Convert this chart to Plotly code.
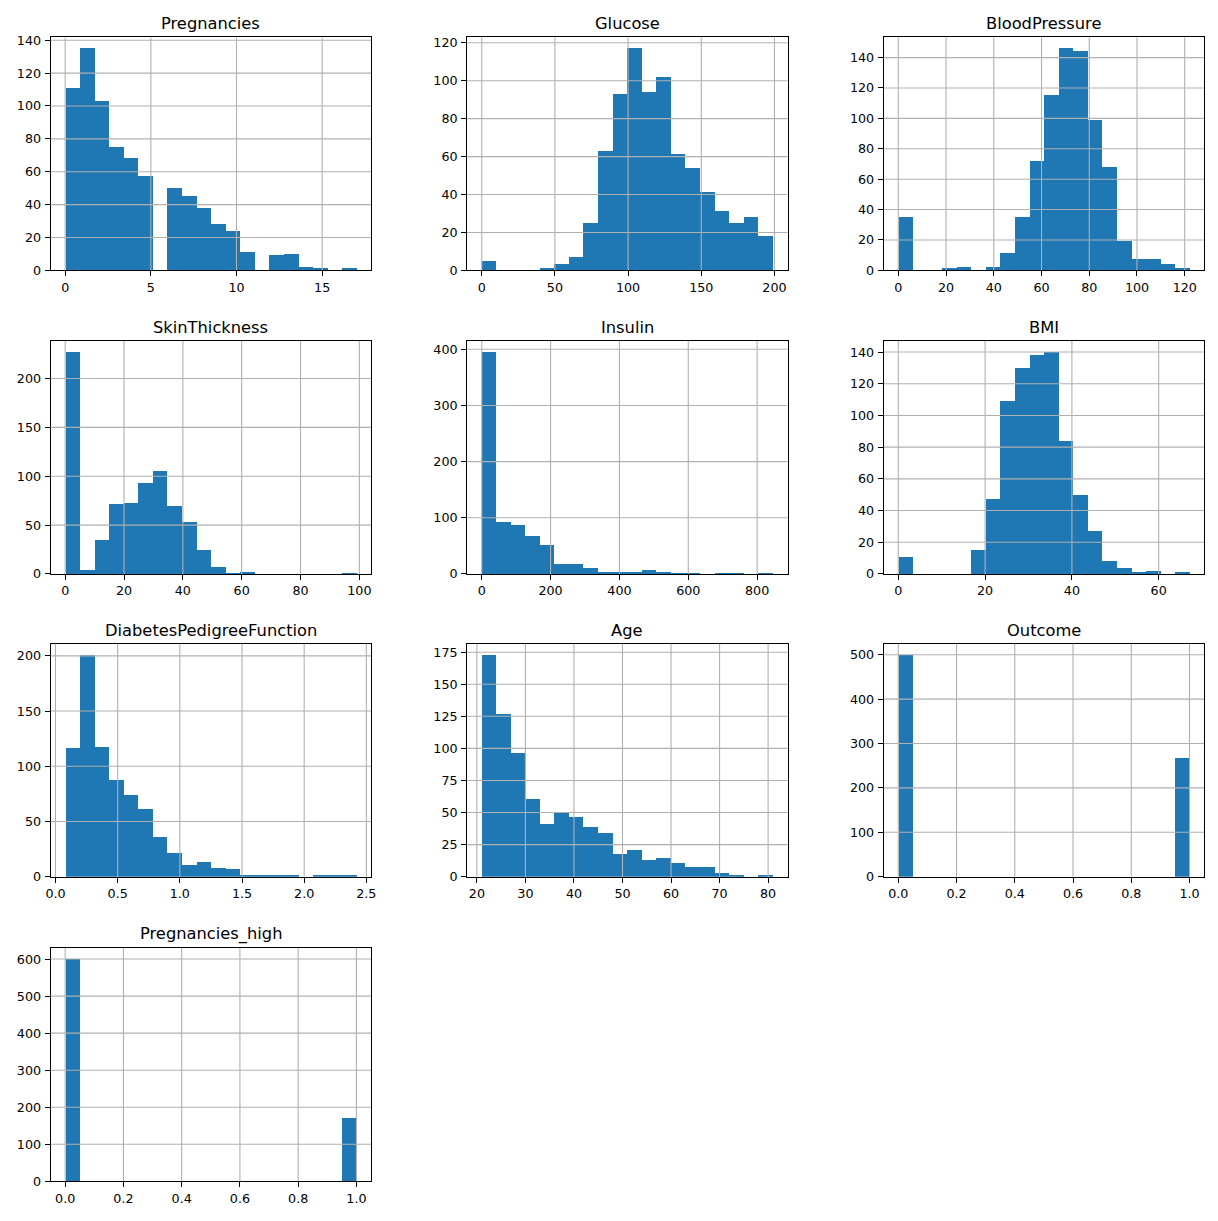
import numpy as np
import plotly.graph_objects as go

# ---------------- data (histogram counts, 20 bins each) ----------------
names = ["Pregnancies", "Glucose", "BloodPressure", "SkinThickness", "Insulin",
         "BMI", "DiabetesPedigreeFunction", "Age", "Outcome", "Pregnancies_high"]

data_min = [0, 0, 0, 0, 0, 0, 0.078, 21, 0, 0]
data_max = [17, 199, 122, 99, 846, 67.1, 2.42, 81, 1, 1]

pregnancies_counts = [111, 135, 103, 75, 68, 57, 0, 50, 45, 38, 28, 24, 11, 0, 9, 10, 2, 1, 0, 1]
glucose_counts = [5, 0, 0, 0, 1, 3, 7, 25, 63, 93, 117, 94, 102, 61, 54, 41, 31, 25, 28, 18]
bloodpressure_counts = [35, 0, 0, 1, 2, 0, 2, 11, 35, 72, 115, 146, 144, 99, 68, 19, 7, 7, 4, 1]
skinthickness_counts = [227, 4, 35, 72, 73, 93, 105, 70, 53, 25, 7, 1, 2, 0, 0, 0, 0, 0, 0, 1]
insulin_counts = [395, 93, 88, 67, 51, 18, 18, 11, 4, 4, 2, 7, 4, 1, 1, 0, 1, 1, 0, 1]
bmi_counts = [11, 0, 0, 0, 0, 15, 47, 109, 130, 138, 140, 84, 50, 27, 8, 4, 1, 2, 0, 1]
dpf_counts = [117, 201, 118, 88, 74, 62, 36, 22, 11, 14, 8, 7, 1, 2, 2, 1, 0, 1, 1, 2]
age_counts = [173, 127, 97, 61, 41, 51, 47, 39, 34, 18, 21, 13, 15, 11, 8, 8, 3, 1, 0, 1]
outcome_counts = [500, 0, 0, 0, 0, 0, 0, 0, 0, 0, 0, 0, 0, 0, 0, 0, 0, 0, 0, 268]
preg_high_counts = [599, 0, 0, 0, 0, 0, 0, 0, 0, 0, 0, 0, 0, 0, 0, 0, 0, 0, 0, 169]

all_counts = [pregnancies_counts, glucose_counts, bloodpressure_counts, skinthickness_counts,
              insulin_counts, bmi_counts, dpf_counts, age_counts, outcome_counts, preg_high_counts]

x_ticks = [
    [0, 5, 10, 15],
    [0, 50, 100, 150, 200],
    [0, 20, 40, 60, 80, 100, 120],
    [0, 20, 40, 60, 80, 100],
    [0, 200, 400, 600, 800],
    [0, 20, 40, 60],
    [0.0, 0.5, 1.0, 1.5, 2.0, 2.5],
    [20, 30, 40, 50, 60, 70, 80],
    [0.0, 0.2, 0.4, 0.6, 0.8, 1.0],
    [0.0, 0.2, 0.4, 0.6, 0.8, 1.0],
]
x_tick_fmt = [None, None, None, None, None, None, ".1f", None, ".1f", ".1f"]
y_ticks = [
    list(range(0, 141, 20)),
    list(range(0, 121, 20)),
    list(range(0, 141, 20)),
    list(range(0, 201, 50)),
    list(range(0, 401, 100)),
    list(range(0, 141, 20)),
    list(range(0, 201, 50)),
    list(range(0, 176, 25)),
    list(range(0, 501, 100)),
    list(range(0, 601, 100)),
]

# ---------------- layout geometry ----------------
W, H = 1218, 1221
col_left = [46, 466, 886]
ax_w = 323
row_top = [32.7, 339.3, 645, 952.7]
ax_h = 235.3

BAR = "#1f77b4"
GRID = "#b0b0b0"
FONT = "DejaVu Sans, sans-serif"
TICK_SIZE = 12.7
TITLE_SIZE = 16.3
LW = 1.1

fig = go.Figure()
layout = dict(
    width=W, height=H, margin=dict(l=0, r=0, t=0, b=0),
    paper_bgcolor="white", plot_bgcolor="white", showlegend=False,
    font=dict(family=FONT, size=TICK_SIZE, color="black"),
    bargap=0,
)
shapes = []
annotations = []

for i, name in enumerate(names):
    r, c = divmod(i, 3)
    k = i + 1
    xa = "xaxis" if k == 1 else f"xaxis{k}"
    ya = "yaxis" if k == 1 else f"yaxis{k}"
    xr = "x" if k == 1 else f"x{k}"
    yr = "y" if k == 1 else f"y{k}"

    counts = np.array(all_counts[i], dtype=float)
    edges = np.linspace(data_min[i], data_max[i], len(counts) + 1)
    centers = (edges[:-1] + edges[1:]) / 2
    widths = np.diff(edges)

    fig.add_trace(go.Bar(x=centers, y=counts, width=widths, marker=dict(color=BAR, line=dict(width=0)),
                         xaxis=xr, yaxis=yr, hoverinfo="x+y"))

    span = data_max[i] - data_min[i]
    xrange_ = [data_min[i] - 0.05 * span, data_max[i] + 0.05 * span]
    yrange_ = [0, counts.max() * 1.05]

    x0 = col_left[c] / W
    x1 = (col_left[c] + ax_w) / W
    y1 = 1 - row_top[r] / H
    y0 = 1 - (row_top[r] + ax_h) / H

    common = dict(showgrid=False, zeroline=False, showline=True, linecolor="black", linewidth=LW,
                  mirror=True, ticks="outside", ticklen=5, tickwidth=LW, tickcolor="black",
                  tickfont=dict(family=FONT, size=TICK_SIZE, color="black"))
    layout[xa] = dict(domain=[x0, x1], range=xrange_, anchor=yr, tickmode="array",
                      tickvals=x_ticks[i], ticklabelstandoff=0, **common)
    if x_tick_fmt[i]:
        layout[xa]["ticktext"] = [format(v, x_tick_fmt[i]) for v in x_ticks[i]]
    layout[ya] = dict(domain=[y0, y1], range=yrange_, anchor=xr, tickmode="array",
                      tickvals=y_ticks[i], ticklabelstandoff=1, **common)

    # grid lines drawn above the bars, as in the pandas/matplotlib histogram
    for v in x_ticks[i]:
        if xrange_[0] <= v <= xrange_[1]:
            shapes.append(dict(type="line", xref=xr, yref=f"{yr} domain", x0=v, x1=v, y0=0, y1=1,
                               line=dict(color=GRID, width=LW), layer="above"))
    for v in y_ticks[i]:
        if yrange_[0] < v <= yrange_[1]:
            shapes.append(dict(type="line", xref=f"{xr} domain", yref=yr, x0=0, x1=1, y0=v, y1=v,
                               line=dict(color=GRID, width=LW), layer="above"))

    annotations.append(dict(text=name, xref=f"{xr} domain", yref=f"{yr} domain", x=0.5, y=1,
                            xanchor="center", yanchor="bottom", yshift=2, showarrow=False,
                            font=dict(family=FONT, size=TITLE_SIZE, color="black")))

layout["shapes"] = shapes
layout["annotations"] = annotations
fig.update_layout(**layout)
fig.write_html("out.html")
